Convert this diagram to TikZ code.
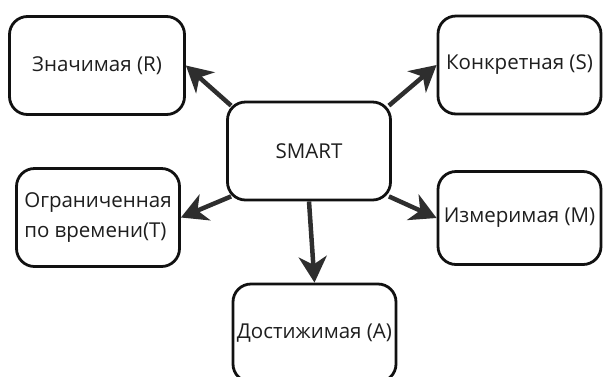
\documentclass[tikz,border=0pt]{standalone}
\usepackage{fontspec}
\setmainfont{Open Sans}
\usetikzlibrary{arrows.meta}
\definecolor{smartink}{HTML}{111111}
\definecolor{smarttext}{HTML}{1E1E1E}
\definecolor{smartarrow}{HTML}{2E2E2E}

\begin{document}
\begin{tikzpicture}[x=1pt, y=-1pt,
    goal/.style={
      rectangle, rounded corners=18pt,
      minimum width=163pt, minimum height=98pt, inner sep=1pt,
      draw=smartink, line width=2.8pt, fill=white,
      font=\fontsize{20.5}{30}\selectfont, text=smarttext
    },
    arrow/.style={-{Stealth[length=26pt, width=28pt, inset=8pt]}, line width=4.5pt, smartarrow}
  ]
  \useasboundingbox (0,0) rectangle (604,376);
  \clip (0,0) rectangle (604,376);

  % Boxes
  \node[goal] (smart) at (309,151) {SMART};
  \node[goal, minimum width=175pt] (r) at (97,65.5) {Значимая (R)};
  \node[goal] (s) at (519.5,65) {Конкретная (S)};
  \node[goal, align=left] (t) at (98,217.5) {Ограниченная\\по времени(T)};
  \node[goal, minimum height=93pt] (m) at (519.5,218) {Измеримая (M)};
  \node[goal] (a) at (314.5,333) {Достижимая (A)};

  % Arrows
  \draw[arrow] ([xshift=5pt, yshift=-5pt]smart.north west) -- (r.east);
  \draw[arrow] ([xshift=-3pt, yshift=-5pt]smart.north east) -- (s.west);
  \draw[arrow] ([xshift=5pt, yshift=5pt]smart.south west) -- (t.east);
  \draw[arrow] ([xshift=-3pt, yshift=5pt]smart.south east) -- (m.west);
  \draw[arrow] (smart.south) -- (a.north);
\end{tikzpicture}
\end{document}
